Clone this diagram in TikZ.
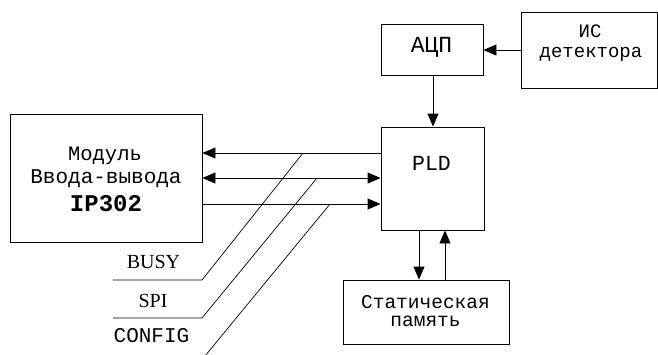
\documentclass[tikz,border=0pt]{standalone}
\usepackage{fontspec}
\setmainfont{Liberation Serif}
\newfontfamily\monofont{Liberation Mono}
\usetikzlibrary{arrows.meta}
\tikzset{
  blk/.style={draw, line width=0.9pt, inner sep=0pt},
  lbl/.style={inner sep=0pt, anchor=base, font=\monofont},
  sig/.style={line width=0.9pt},
  arr/.style={sig, -{Triangle[length=13pt,width=11pt]}},
  barr/.style={sig, {Triangle[length=13pt,width=11pt]}-{Triangle[length=13pt,width=11pt]}},
}
\begin{document}
\begin{tikzpicture}[x=1pt,y=-1pt]
\useasboundingbox (0,0) rectangle (658,354);
% blocks
\node[blk, minimum width=192pt, minimum height=128pt] (mod) at (106,178) {};
\node[blk, minimum width=103pt, minimum height=103pt] (pld) at (432.5,178.5) {};
\node[blk, minimum width=102pt, minimum height=51pt] (adc) at (432,49.5) {};
\node[blk, minimum width=136pt, minimum height=76pt] (det) at (589,50) {};
\node[blk, minimum width=166pt, minimum height=64pt] (mem) at (426,312) {};
% block texts
\node[lbl, font=\monofont\fontsize{20.5}{24}\selectfont] (t1) at (105,160) {Модуль};
\node[lbl, font=\monofont\fontsize{21}{24}\selectfont] (t2) at (106,183) {Ввода-вывода};
\node[lbl, font=\monofont\bfseries\fontsize{24}{28}\selectfont] (t3) at (106,211) {IP302};
\node[lbl, font=\monofont\fontsize{21.5}{24}\selectfont] (t4) at (431.5,170) {PLD};
\node[lbl, font=\monofont\fontsize{23}{26}\selectfont] (t5) at (431.5,52) {АЦП};
\node[lbl, font=\monofont\fontsize{19}{22}\selectfont] (t6) at (590,37) {ИС};
\node[lbl, font=\monofont\fontsize{19}{22}\selectfont] (t7) at (591,57) {детектора};
\node[lbl, font=\monofont\fontsize{19.5}{22}\selectfont] (t8) at (425.5,308) {Статическая};
\node[lbl, font=\monofont\fontsize{19.5}{22}\selectfont] (t9) at (425.5,326) {память};
% bus arrows between module and PLD
\draw[arr] (pld.west |- 0,153) -- (mod.east |- 0,153);
\draw[barr] (mod.east |- 0,178) -- (pld.west |- 0,178);
\draw[arr] (mod.east |- 0,204) -- (pld.west |- 0,204);
% other connections
\draw[arr] (det.west |- 0,50) -- (adc.east |- 0,50);
\draw[arr] (adc.south -| 433,0) -- (pld.north -| 433,0);
\draw[arr] (pld.south -| 419,0) -- (mem.north -| 419,0);
\draw[arr] (mem.north -| 445,0) -- (pld.south -| 445,0);
% signal taps
\coordinate (busyA) at (303,153);
\coordinate (busyB) at (202,280);
\coordinate (busyC) at (113,280);
\coordinate (spiA) at (317,178);
\coordinate (spiB) at (202,318);
\coordinate (spiC) at (113,318);
\coordinate (cfgA) at (330,204);
\coordinate (cfgB) at (205,356);
\draw[line width=0.7pt] (busyA) -- (busyB) -- (busyC);
\draw[line width=0.7pt] (spiA) -- (spiB) -- (spiC);
\draw[line width=0.7pt] (cfgA) -- (cfgB);
\node[inner sep=0pt, anchor=base, font=\fontsize{20}{24}\selectfont] (busy) at (153.5,268) {BUSY};
\node[inner sep=0pt, anchor=base, font=\fontsize{20}{24}\selectfont] (spi) at (153,307) {SPI};
\node[lbl, font=\monofont\fontsize{21}{24}\selectfont] (cfg) at (151.5,342) {CONFIG};
\end{tikzpicture}
\end{document}
